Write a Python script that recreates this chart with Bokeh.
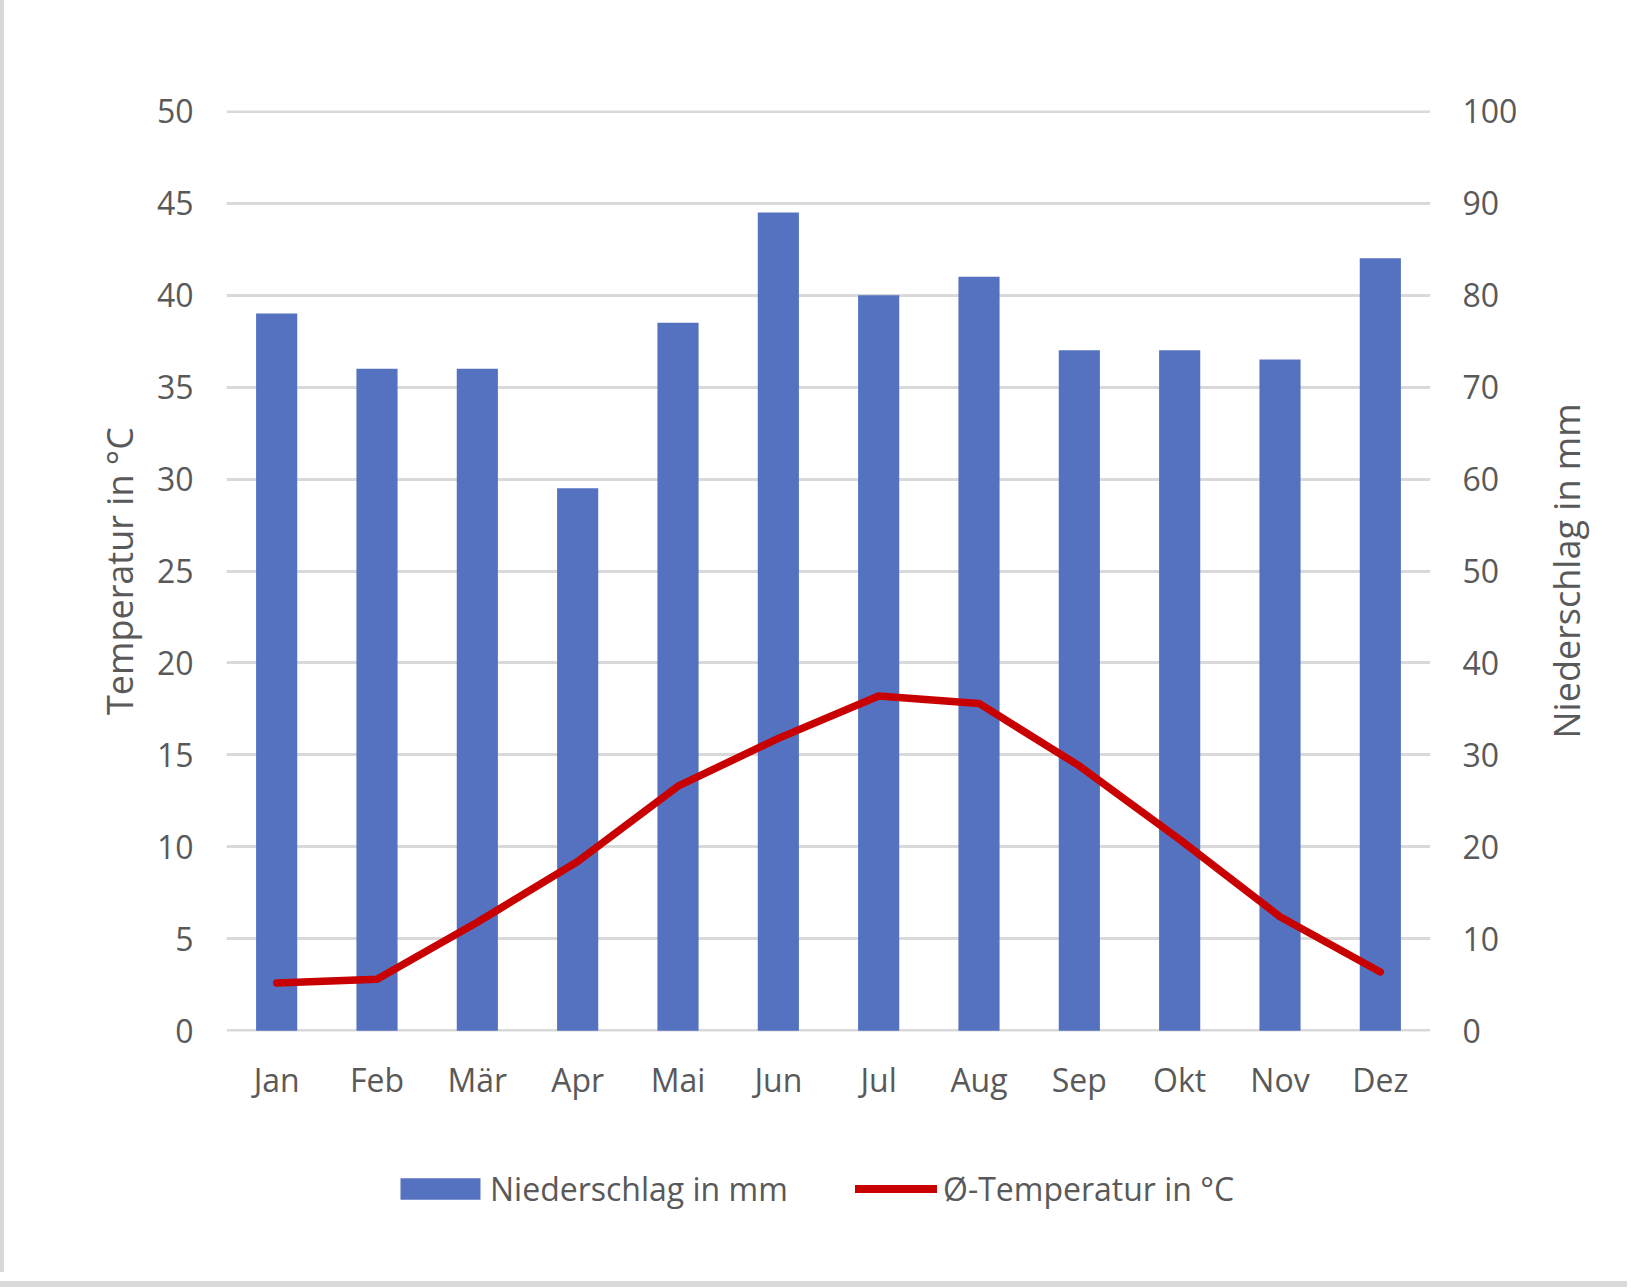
from bokeh.plotting import figure
from bokeh.models import Range1d, LinearAxis, FixedTicker, Legend, LegendItem
from bokeh.layouts import row, column
from bokeh.embed import file_html
from bokeh.resources import INLINE

months = ["Jan", "Feb", "Mär", "Apr", "Mai", "Jun", "Jul", "Aug", "Sep", "Okt", "Nov", "Dez"]
niederschlag_mm = [78, 72, 72, 59, 77, 89, 80, 82, 74, 74, 73, 84]
temperatur_c = [2.6, 2.8, 5.9, 9.2, 13.3, 15.9, 18.2, 17.8, 14.4, 10.4, 6.2, 3.2]
temp_ticks = list(range(0, 51, 5))
rain_ticks = list(range(0, 101, 10))

FONT = "Open Sans"
TXT = "#595959"
GRID = "#d9d9d9"
BLUE = "#5572C0"
RED = "#C80000"

W_MAIN, H_MAIN = 1520, 1120
W_TOTAL, H_TOTAL = 1627, 1272

# ---------------- main chart ----------------
p = figure(x_range=months, y_range=Range1d(-0.04, 50.04), width=W_MAIN, height=H_MAIN,
           output_backend="svg", toolbar_location=None,
           min_border_left=226, min_border_right=W_MAIN - 1436,
           min_border_top=110, min_border_bottom=H_MAIN - 1031)
p.extra_y_ranges = {"rain": Range1d(-0.08, 100.08)}
p.outline_line_color = None
p.background_fill_color = "white"
p.border_fill_alpha = 0

bars = p.vbar(x=months, top=niederschlag_mm, width=0.41, y_range_name="rain",
              fill_color=BLUE, line_color=None)
line = p.line(x=months, y=temperatur_c, line_color=RED, line_width=7.5,
              line_cap="round", line_join="round")

p.xgrid.grid_line_color = None
p.ygrid.grid_line_color = GRID
p.ygrid.grid_line_width = 3
p.ygrid.ticker = FixedTicker(ticks=temp_ticks)

def style_axis(ax):
    ax.axis_line_color = None
    ax.major_tick_line_color = None
    ax.minor_tick_line_color = None
    ax.major_tick_out = 0
    ax.major_tick_in = 0
    ax.major_label_text_font = FONT
    ax.major_label_text_font_size = "32px"
    ax.major_label_text_color = TXT
    ax.axis_label_text_font = FONT
    ax.axis_label_text_font_size = "36px"
    ax.axis_label_text_font_style = "normal"
    ax.axis_label_text_color = TXT

xa = p.xaxis[0]
style_axis(xa)
xa.major_label_standoff = 26

ya = p.yaxis[0]
style_axis(ya)
ya.ticker = FixedTicker(ticks=temp_ticks)
ya.axis_label = "Temperatur in °C"
ya.major_label_standoff = 33
ya.axis_label_standoff = 10

ra = LinearAxis(y_range_name="rain", ticker=FixedTicker(ticks=rain_ticks))
style_axis(ra)
ra.major_label_standoff = 32
p.add_layout(ra, "right")

# ---------------- right axis title (reads bottom-to-top) ----------------
pt = figure(width=W_TOTAL - W_MAIN, height=H_MAIN, x_range=Range1d(0, 1), y_range=Range1d(0, 1),
            output_backend="svg", toolbar_location=None, x_axis_type=None,
            min_border_left=70, min_border_right=0,
            min_border_top=110, min_border_bottom=H_MAIN - 1031)
pt.outline_line_color = None
pt.grid.visible = False
ta = pt.yaxis[0]
style_axis(ta)
ta.ticker = FixedTicker(ticks=[])
ta.axis_label = "Niederschlag in mm"
ta.axis_label_standoff = 0

# ---------------- legend strip ----------------
# the strip's ranges lie above all data, so only the legend glyphs show
pl = figure(width=W_TOTAL, height=H_TOTAL - H_MAIN, x_range=months, y_range=Range1d(500, 501),
            output_backend="svg", toolbar_location=None, x_axis_type=None, y_axis_type=None,
            min_border_left=0, min_border_right=0, min_border_top=0, min_border_bottom=0)
pl.outline_line_color = None
pl.grid.visible = False
pl.border_fill_alpha = 0
pl.background_fill_alpha = 0
lg_bar = pl.vbar(x=months, top=niederschlag_mm, width=0.41, fill_color=BLUE, line_color=None)
lg_line = pl.line(x=months, y=temperatur_c, line_color=RED, line_width=8, line_cap="round")

common = dict(orientation="horizontal", padding=0, margin=0, border_line_color=None,
              background_fill_alpha=0, label_text_font=FONT, label_text_font_size="32px",
              label_text_color=TXT)
legend1 = Legend(items=[LegendItem(label="Niederschlag in mm", renderers=[lg_bar])],
                 location=(390, 62), glyph_width=100, glyph_height=27, label_standoff=0, **common)
legend2 = Legend(items=[LegendItem(label="Ø-Temperatur in °C", renderers=[lg_line])],
                 location=(855, 62), glyph_width=82, glyph_height=27, label_standoff=6, **common)
pl.add_layout(legend1, "center")
pl.add_layout(legend2, "center")

layout = column(row(p, pt), pl)
layout.styles = {"box-shadow": "inset 4px 0 0 0 #d9d9d9, 0 9px 0 0 #ffffff, 0 15px 0 0 #d9d9d9"}
open("out.html", "w").write(file_html(layout, INLINE))
